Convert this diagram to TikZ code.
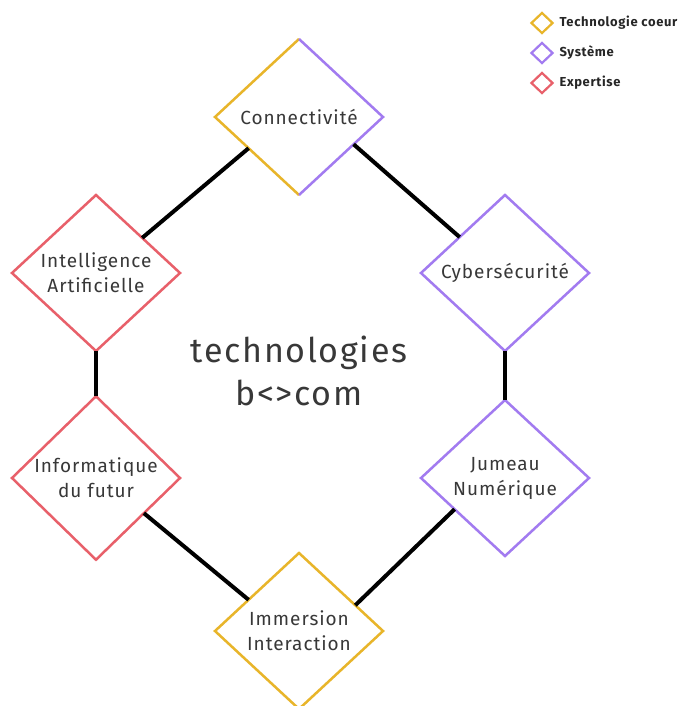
\documentclass[tikz,border=0pt]{standalone}
\usepackage{fontspec}
\setmainfont[LetterSpace=5]{Fira Sans}
\usetikzlibrary{shapes.geometric,calc}
\definecolor{coeur}{HTML}{E8B52A}
\definecolor{systeme}{HTML}{A27BF0}
\definecolor{expertise}{HTML}{E8606A}
\definecolor{texte}{HTML}{383838}
\tikzset{
  techno/.style={diamond,draw,line width=2.5pt,fill=white,minimum width=168pt,minimum height=156pt,
    inner sep=0pt,outer sep=0pt,align=center,text=texte,font=\fontsize{19}{25}\selectfont},
  lien/.style={line width=4pt,black},
  puce/.style={diamond,draw,line width=2.2pt,minimum width=22pt,minimum height=21pt,inner sep=0pt},
  legende/.style={anchor=west,text=black!85,font=\bfseries\fontsize{13}{15}\selectfont},
}
\begin{document}
\begin{tikzpicture}[x=1pt,y=-1pt]
\useasboundingbox[fill=white] (0,0) rectangle (678,706);
% les six domaines
\node[techno,draw=none] (connect) at (299,117) {Connectivité};
\draw[coeur,line width=2.5pt] (connect.north) -- (connect.west) -- (connect.south);
\draw[systeme,line width=2.5pt] (connect.north) -- (connect.east) -- (connect.south);
\node[techno,draw=systeme] (cyber) at (505,273) {Cybersécurité};
\node[techno,draw=systeme] (jumeau) at (505,478) {Jumeau\\Numérique};
\node[techno,draw=coeur] (immer) at (299,631) {Immersion\\Interaction};
\node[techno,draw=expertise] (info) at (96,478) {Informatique\\du futur};
\node[techno,draw=expertise] (intel) at (96,273) {Intelligence\\Artificielle};
% liens
\draw[lien] ($(connect.west)!0.4!(connect.south)$) -- ($(intel.north)!0.55!(intel.east)$);
\draw[lien] ($(connect.east)!0.35!(connect.south)$) -- ($(cyber.north)!0.54!(cyber.west)$);
\draw[lien] (intel.south) -- (info.north);
\draw[lien] (cyber.south) -- (jumeau.north);
\draw[lien] ($(info.east)!0.43!(info.south)$) -- ($(immer.north)!0.6!(immer.west)$);
\draw[lien] ($(jumeau.west)!0.4!(jumeau.south)$) -- ($(immer.north)!0.67!(immer.east)$);
% centre
\node[text=texte,align=center,font=\fontsize{34}{43}\selectfont] (titre) at (299,371) {technologies\\b<>com};
% legende
\node[puce,draw=coeur] (pcoeur) at (542,23) {};
\node[legende] (lcoeur) at (556,23) {Technologie coeur};
\node[puce,draw=systeme] (psyst) at (542,53) {};
\node[legende] (lsyst) at (556,53) {Système};
\node[puce,draw=expertise] (pexp) at (542,83) {};
\node[legende] (lexp) at (556,83) {Expertise};
\end{tikzpicture}
\end{document}
